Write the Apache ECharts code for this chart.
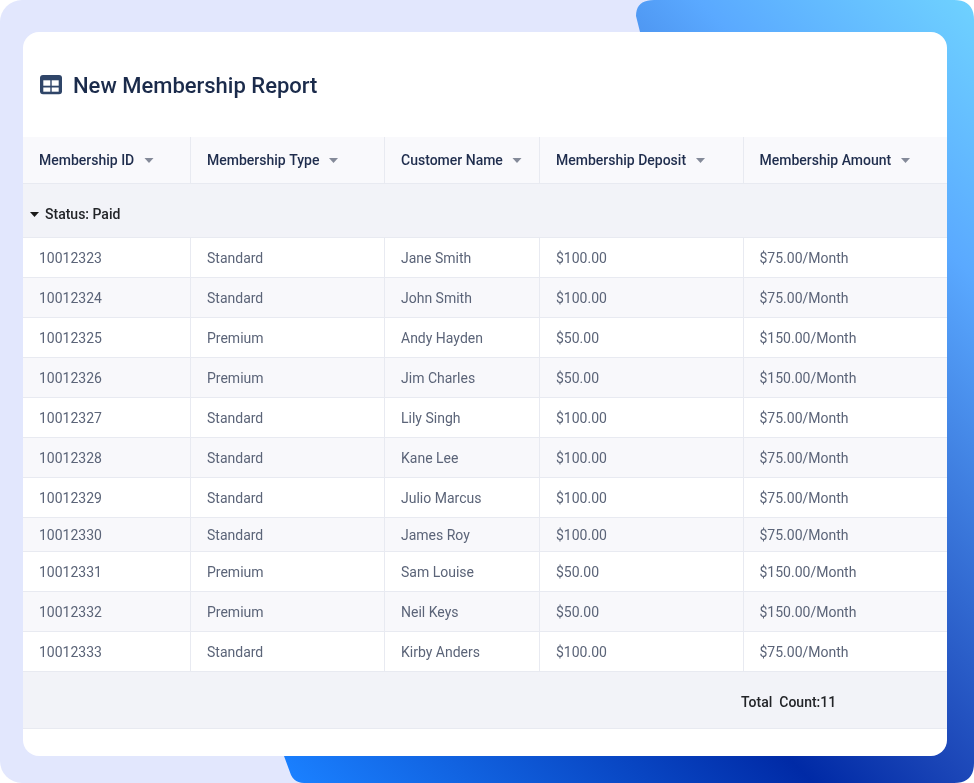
<!DOCTYPE html>
<html><head><meta charset="utf-8">
<style>html,body{margin:0;padding:0;background:#fff}#c{width:974px;height:783px}</style>
<script src="https://cdn.jsdelivr.net/npm/echarts@6/dist/echarts.min.js"></script></head>
<body><div id="c"></div>
<script>
const title = 'New Membership Report';
const columns = ['Membership ID','Membership Type','Customer Name','Membership Deposit','Membership Amount'];
const groupLabel = 'Status: Paid';
const totalLabel = 'Total  Count:11';
const ids = ['10012323','10012324','10012325','10012326','10012327','10012328','10012329','10012330','10012331','10012332','10012333'];
const types = ['Standard','Standard','Premium','Premium','Standard','Standard','Standard','Standard','Premium','Premium','Standard'];
const names = ['Jane Smith','John Smith','Andy Hayden','Jim Charles','Lily Singh','Kane Lee','Julio Marcus','James Roy','Sam Louise','Neil Keys','Kirby Anders'];
const deposits = ['$100.00','$100.00','$50.00','$50.00','$100.00','$100.00','$100.00','$100.00','$50.00','$50.00','$100.00'];
const amounts = ['$75.00/Month','$75.00/Month','$150.00/Month','$150.00/Month','$75.00/Month','$75.00/Month','$75.00/Month','$75.00/Month','$150.00/Month','$150.00/Month','$75.00/Month'];

const colEdges = [23,190.5,384.5,539.5,743.5,947];
const textX = [39,207,401,556,759.5];
const rowEdges = [237.5,277.5,317.5,357.5,397.5,437.5,477.5,517.5,551.5,591.5,631.5,671.5];
const FONT='Roboto';
const LINE='#e8eaf1';

function rect(api,x0,y0,x1,y1,fill){const a=api.coord([x0,y0]),b=api.coord([x1,y1]);
  return {type:'rect',shape:{x:a[0],y:a[1],width:b[0]-a[0],height:b[1]-a[1]},style:{fill},silent:true};}
function line(api,x0,y0,x1,y1,c){const a=api.coord([x0,y0]),b=api.coord([x1,y1]);
  return {type:'line',shape:{x1:a[0],y1:a[1],x2:b[0],y2:b[1]},style:{stroke:c||LINE,lineWidth:1},silent:true};}
function txt(api,x,y,t,size,weight,fill,align){const a=api.coord([x,y]);
  return {type:'text',x:a[0],y:a[1],style:{text:t,fontFamily:FONT,fontSize:size,fontWeight:weight,fill,align:align||'left',verticalAlign:'middle'},silent:true};}
function caret(api,x,y,w,h,fill){const a=api.coord([x,y]);
  return {type:'polygon',shape:{points:[[a[0],a[1]],[a[0]+w,a[1]],[a[0]+w/2,a[1]+h]]},style:{fill},silent:true};}

function renderTable(params,api){
  const kids=[];
  kids.push(rect(api,23,137,947,183.5,'#f9f9fc'));
  kids.push(rect(api,23,184,947,237,'#f2f3f8'));
  columns.forEach((c,i)=>{
    kids.push(txt(api,textX[i],161.5,c,14,500,'#1f2d4d'));
  });
  const caretX=[144.5,329,512.5,696,901];
  caretX.forEach(x=>kids.push(caret(api,x,158,9,5,'#848a99')));
  kids.push(line(api,23,183.5,947,183.5));
  kids.push(caret(api,30,212,9,5,'#1a1a1a'));
  kids.push(txt(api,45,215.5,groupLabel,14,500,'#222428'));
  const cols=[ids,types,names,deposits,amounts];
  ids.forEach((_,r)=>{
    const y0=rowEdges[r],y1=rowEdges[r+1];
    if(r%2==1) kids.push(rect(api,23,y0,947,y1,'#f8f8fb'));
    cols.forEach((col,c)=>{
      kids.push(txt(api,textX[c],(y0+y1)/2+1.5,col[r],14,400,'#5b6478'));
    });
  });
  rowEdges.forEach(y=>kids.push(line(api,23,y,947,y)));
  colEdges.slice(1,5).forEach(x=>{
    kids.push(line(api,x,137,x,183));
    kids.push(line(api,x,237,x,671));
  });
  kids.push(rect(api,23,672,947,728,'#f2f3f8'));
  kids.push(line(api,23,728.5,947,728.5));
  kids.push(txt(api,741,703.5,totalLabel,14,500,'#222428'));
  return {type:'group',children:kids};
}

// outline of the blue backdrop: rounded corners sampled as quadratic curves
function q(p0,c,p1,n){const out=[];for(let i=0;i<=n;i++){const t=i/n,u=1-t;
  out.push([u*u*p0[0]+2*u*t*c[0]+t*t*p1[0],u*u*p0[1]+2*u*t*c[1]+t*t*p1[1]]);}return out;}
const bluePts=[].concat(
  q([636,16],[636,0],[654,0],10),
  q([954,0],[974,0],[974,20],10),
  q([974,763],[974,783],[954,783],10),
  q([304,783],[295,783],[291,775],6),
  [[284,756],[640,32]]
);

const chart=echarts.init(document.getElementById('c'),null,{renderer:'canvas'});
chart.setOption({
  animation:false,
  backgroundColor:'#fff',
  grid:{left:0,right:0,top:0,bottom:0},
  xAxis:{type:'value',min:0,max:974,show:false},
  yAxis:{type:'value',min:0,max:783,inverse:true,show:false},
  graphic:[
    {type:'rect',z:-10,shape:{x:0,y:0,width:974,height:783,r:22},style:{fill:'#e2e7fd'}},
    {type:'polygon',z:-9,shape:{points:bluePts},
      style:{fill:new echarts.graphic.LinearGradient(974,0,242,728,[
        {offset:0,color:'#6fd2ff'},{offset:.19,color:'#5aa9ff'},{offset:.535,color:'#1c47b8'},{offset:.645,color:'#002aa6'},{offset:1,color:'#1a80ff'}],true)}},
    {type:'rect',z:-8,shape:{x:23,y:32,width:924,height:724,r:16},style:{fill:'#ffffff'}},
    {type:'group',z:10,x:40,y:75,children:[
      {type:'rect',shape:{x:0,y:0,width:22,height:19.3,r:3},style:{fill:'#2f4568'}},
      {type:'rect',shape:{x:3.3,y:5.3,width:7,height:5.4},style:{fill:'#fff'}},
      {type:'rect',shape:{x:11.7,y:5.3,width:7,height:5.4},style:{fill:'#fff'}},
      {type:'rect',shape:{x:3.3,y:12.5,width:7,height:4.2},style:{fill:'#fff'}},
      {type:'rect',shape:{x:11.7,y:12.5,width:7,height:4.2},style:{fill:'#fff'}}
    ]},
    {type:'text',z:10,x:73,y:87,style:{text:title,fontFamily:FONT,fontSize:22,fontWeight:500,fill:'#1b2b4b',verticalAlign:'middle'}}
  ],
  series:[{type:'custom',coordinateSystem:'cartesian2d',data:[[0,0]],clip:false,renderItem:renderTable,silent:true}]
});
</script></body></html>
